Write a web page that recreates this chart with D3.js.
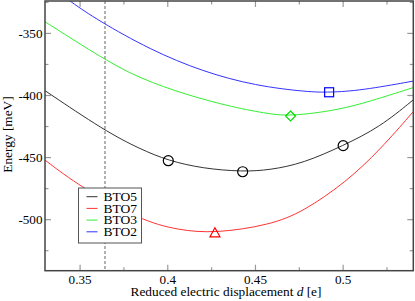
<!DOCTYPE html>
<html>
<head>
<meta charset="utf-8">
<script src="https://cdn.jsdelivr.net/npm/d3@7"></script>
<style>
  body { margin: 0; background: #fff; }
  svg { display: block; font-family: "Liberation Serif", "DejaVu Serif", serif; }
</style>
</head>
<body>
<svg id="chart" width="415" height="301"></svg>
<script>
// values: [d, energy in meV]
const BTO2 = [[0.330, -309.0], [0.345, -324.9], [0.360, -339.3], [0.390, -363.2], [0.420, -380.8], [0.450, -392.2],
  [0.480, -397.2], [0.492, -397.5], [0.510, -396.0], [0.540, -388.4]];
const BTO3 = [[0.330, -340.6], [0.3642, -371.4], [0.3842, -386.3], [0.4108, -399.6], [0.4373, -409.5],
  [0.4582, -415.0], [0.4700, -416.6], [0.4962, -412.0], [0.5152, -404.8], [0.5400, -393.6]];
const BTO5 = [[0.330, -396.1], [0.3642, -428.6], [0.3842, -443.1], [0.4003, -452.5], [0.4200, -458.8],
  [0.4427, -461.4], [0.4582, -460.0], [0.4772, -454.6], [0.5000, -440.4], [0.5209, -425.5], [0.5400, -403.5]];
const BTO7 = [[0.330, -452.0], [0.350, -473.5], [0.3842, -500.3], [0.4060, -508.5], [0.4269, -511.0],
  [0.4582, -504.3], [0.4772, -493.6], [0.5019, -469.4], [0.5209, -443.9], [0.5400, -413.0]];

const circlesBTO5 = [[0.4003, -452.5], [0.4427, -461.4], [0.5000, -440.4]];
const triangleBTO7 = [[0.4269, -511.0]];
const diamondBTO3 = [[0.4700, -416.5]];
const squareBTO2 = [[0.4920, -397.4]];

const dashedD = 0.3642;

const xTicks = [0.35, 0.4, 0.45, 0.5];
const xTickLabels = ['0.35', '0.4', '0.45', '0.5'];
const xMinor = [0.375, 0.425, 0.475, 0.525];
const yTicks = [-350, -400, -450, -500];
const yMinor = [-325, -375, -425, -475, -525];

const legendNames = ['BTO5', 'BTO7', 'BTO3', 'BTO2'];
const legendColors = ['#333333', '#ff3333', '#33ee33', '#3333ff'];

const svg = d3.select('#chart');
const pl = 45, pr = 413.3, pt = 1, pb = 270.7;

const x = d3.scaleLinear().domain([0.33, 0.54]).range([pl, pr]);
const y = d3.scaleLinear().domain([-323.9, -541.1]).range([pt, pb]);

// font size so that a sample string gets a given width in px
function sizeFor(str, width) {
  const t = svg.append('text').attr('font-size', 20).text(str);
  const w = t.node().getComputedTextLength();
  t.remove();
  return 20 * width / w;
}
const tickSize = sizeFor('0.35', 23);
const legendSize = Math.min(sizeFor('BTO5', 34), 13.5);
const titleSize = sizeFor('Reduced electric displacement d [e]', 191);

svg.append('clipPath').attr('id', 'clip')
  .append('rect').attr('x', pl).attr('y', pt).attr('width', pr - pl).attr('height', pb - pt);

const plot = svg.append('g').attr('clip-path', 'url(#clip)');

// dashed vertical line
plot.append('line')
  .attr('x1', x(dashedD)).attr('x2', x(dashedD))
  .attr('y1', pt).attr('y2', pb)
  .attr('stroke', '#888').attr('stroke-width', 1.3).attr('stroke-dasharray', '3,2');

const line = d3.line().x(d => x(d[0])).y(d => y(d[1])).curve(d3.curveBasis);

const series = [BTO5, BTO7, BTO3, BTO2];
series.forEach((s, i) => {
  plot.append('path').datum(s)
    .attr('d', line)
    .attr('fill', 'none')
    .attr('stroke', legendColors[i])
    .attr('stroke-width', 1);
});

// markers
plot.selectAll('.circ').data(circlesBTO5).enter().append('circle')
  .attr('cx', d => x(d[0])).attr('cy', d => y(d[1])).attr('r', 5)
  .attr('fill', 'none').attr('stroke', '#000').attr('stroke-width', 1.2);

plot.selectAll('.tri').data(triangleBTO7).enter().append('path')
  .attr('transform', d => `translate(${x(d[0])},${y(d[1])})`)
  .attr('d', 'M0,-5.5L5,3.5L-5,3.5Z')
  .attr('fill', 'none').attr('stroke', '#ff0000').attr('stroke-width', 1.2);

plot.selectAll('.dia').data(diamondBTO3).enter().append('path')
  .attr('transform', d => `translate(${x(d[0])},${y(d[1])})`)
  .attr('d', 'M0,-5L5,0L0,5L-5,0Z')
  .attr('fill', 'none').attr('stroke', '#00dd00').attr('stroke-width', 1.2);

plot.selectAll('.sq').data(squareBTO2).enter().append('rect')
  .attr('x', d => x(d[0]) - 4.5).attr('y', d => y(d[1]) - 4.5)
  .attr('width', 9).attr('height', 9)
  .attr('fill', 'none').attr('stroke', '#0000ff').attr('stroke-width', 1.2);

// ticks on all four sides, pointing inwards
const ticks = svg.append('g').attr('stroke', '#999').attr('stroke-width', 1.2);
xTicks.forEach(t => {
  ticks.append('line').attr('x1', x(t)).attr('x2', x(t)).attr('y1', pb).attr('y2', pb - 6);
  ticks.append('line').attr('x1', x(t)).attr('x2', x(t)).attr('y1', pt).attr('y2', pt + 6);
});
xMinor.forEach(t => {
  ticks.append('line').attr('x1', x(t)).attr('x2', x(t)).attr('y1', pb).attr('y2', pb - 3.5);
  ticks.append('line').attr('x1', x(t)).attr('x2', x(t)).attr('y1', pt).attr('y2', pt + 3.5);
});
yTicks.forEach(t => {
  ticks.append('line').attr('y1', y(t)).attr('y2', y(t)).attr('x1', pl).attr('x2', pl + 6);
  ticks.append('line').attr('y1', y(t)).attr('y2', y(t)).attr('x1', pr).attr('x2', pr - 6);
});
yMinor.forEach(t => {
  ticks.append('line').attr('y1', y(t)).attr('y2', y(t)).attr('x1', pl).attr('x2', pl + 3.5);
  ticks.append('line').attr('y1', y(t)).attr('y2', y(t)).attr('x1', pr).attr('x2', pr - 3.5);
});

// frame
svg.append('rect').attr('x', pl).attr('y', pt).attr('width', pr - pl).attr('height', pb - pt)
  .attr('fill', 'none').attr('stroke', '#444').attr('stroke-width', 1.5);

// tick labels
svg.selectAll('.xl').data(xTicks).enter().append('text')
  .attr('x', d => x(d)).attr('y', 283.5)
  .attr('text-anchor', 'middle').attr('font-size', tickSize)
  .text((d, i) => xTickLabels[i]);

svg.selectAll('.yl').data(yTicks).enter().append('text')
  .attr('x', 42.5).attr('y', d => y(d) + 4.5)
  .attr('text-anchor', 'end').attr('font-size', tickSize)
  .text(d => d);

// axis titles
const xt = svg.append('text').attr('x', 226).attr('y', 295.5)
  .attr('text-anchor', 'middle').attr('font-size', titleSize);
xt.append('tspan').text('Reduced electric displacement ');
xt.append('tspan').attr('font-style', 'italic').text('d');
xt.append('tspan').text(' [e]');

svg.append('text').attr('transform', 'translate(11.5,134.5) rotate(-90)')
  .attr('text-anchor', 'middle').attr('font-size', titleSize)
  .text('Energy [meV]');

// legend
const lg = svg.append('g').attr('transform', 'translate(78.5,188)');
lg.append('rect').attr('width', 63).attr('height', 55)
  .attr('fill', '#fff').attr('stroke', '#555').attr('stroke-width', 1);
legendNames.forEach((n, i) => {
  const yy = 8.7 + i * 11.7;
  lg.append('line').attr('x1', 8).attr('x2', 19).attr('y1', yy).attr('y2', yy)
    .attr('stroke', legendColors[i]).attr('stroke-width', 1);
  lg.append('text').attr('x', 25).attr('y', yy + 4.3).attr('font-size', legendSize).text(n);
});
</script>
</body>
</html>
